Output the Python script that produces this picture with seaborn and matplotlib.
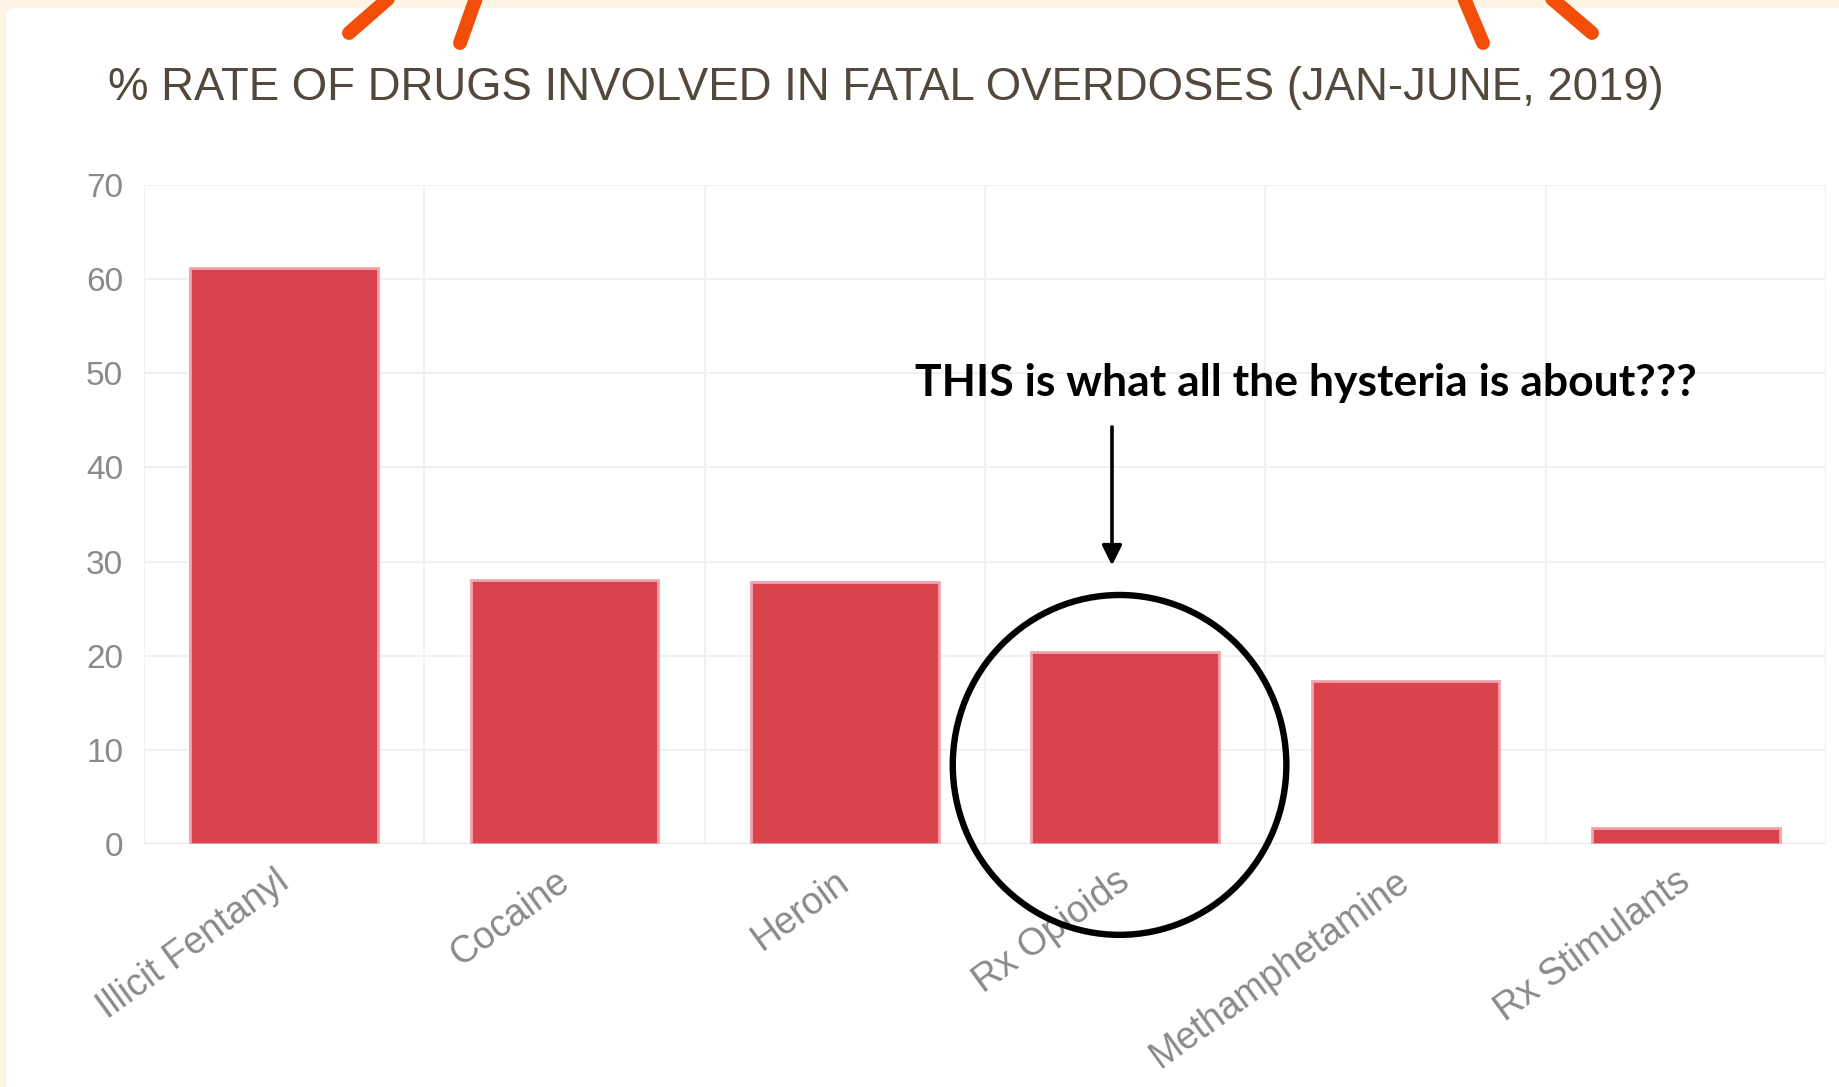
import numpy as np
import pandas as pd
import matplotlib
matplotlib.use("Agg")
import matplotlib.pyplot as plt
import matplotlib.transforms as mtransforms
from matplotlib.patches import Ellipse, FancyBboxPatch
from matplotlib.lines import Line2D
import seaborn as sns

# Data
drugs = ["Illicit Fentanyl", "Cocaine", "Heroin", "Rx Opioids", "Methamphetamine", "Rx Stimulants"]
rates = [61.2, 28.0, 27.8, 20.4, 17.3, 1.7]
y_ticks = [0, 10, 20, 30, 40, 50, 60, 70]

title = "% RATE OF DRUGS INVOLVED IN FATAL OVERDOSES (JAN-JUNE, 2019)"
note = "THIS is what all the hysteria is about???"

sns.set_theme(style="white")
plt.rcParams["font.family"] = ["Liberation Sans", "DejaVu Sans"]

W, H = 1839, 1087
fig = plt.figure(figsize=(W / 100, H / 100), dpi=100, facecolor="#fdf4e3")

# white card on the cream page
card = FancyBboxPatch((6 / W, -0.05), 1.2, 1.05 - 8 / H,
                      boxstyle="round,pad=0,rounding_size=0.006",
                      transform=fig.transFigure, facecolor="white", edgecolor="none", zorder=0)
fig.add_artist(card)

# orange decorative strokes at the top edge
for (x0, y0, x1, y1) in [(389, -2, 349, 33), (476, -2, 460, 43), (1464, -2, 1483, 43), (1551, -2, 1592, 33)]:
    fig.add_artist(Line2D([x0 / W, x1 / W], [1 - y0 / H, 1 - y1 / H], transform=fig.transFigure,
                          color="#f24e0a", lw=10, solid_capstyle="round", zorder=1))

ax = fig.add_axes([144 / W, 1 - 844 / H, 1682 / W, 659 / H])
ax.set_facecolor("none")

df = pd.DataFrame({"drug": drugs, "rate": rates})
sns.barplot(data=df, x="drug", y="rate", color="#d9434c", saturation=1, width=0.67,
            edgecolor="#f0a3ad", linewidth=2, ax=ax, zorder=3)

ax.set_xlim(-0.5, 5.5)
ax.set_ylim(0, 70)
ax.set_yticks(y_ticks)
ax.set_xticks(np.arange(-0.5, 6, 1), minor=True)
ax.set_xlabel("")
ax.set_ylabel("")
for s in ax.spines.values():
    s.set_visible(False)

ax.grid(True, axis="y", color="#f1f1f1", lw=1.5, zorder=0)
ax.grid(True, axis="x", which="minor", color="#f1f1f1", lw=1.5, zorder=0)
ax.grid(False, axis="x", which="major")
ax.axhline(0, color="#e6e6e6", lw=2, zorder=1)

ax.tick_params(axis="y", length=7, color="#eeeeee", width=1.5, pad=8, labelsize=24, labelcolor="#8a8a8a")
ax.tick_params(axis="x", which="minor", length=12, color="#eeeeee", width=1.5)
ax.tick_params(axis="x", which="major", length=0, pad=14, labelsize=27, labelcolor="#8a8a8a")
shift = mtransforms.ScaledTranslation(-10 / 100, 0, fig.dpi_scale_trans)
for lab in ax.get_xticklabels():
    lab.set_rotation(36)
    lab.set_ha("right")
    lab.set_rotation_mode("anchor")
    lab.set_transform(lab.get_transform() + shift)

fig.text(886 / W, 1 - 88 / H, title, ha="center", va="center", fontsize=32.8, color="#52493c")

# annotation on the Rx Opioids bar
ax.text(2.25, 49.0, note, ha="left", va="center", fontsize=32, fontweight="bold",
        family=["Lato", "DejaVu Sans"], color="black", zorder=6)
ax.annotate("", xy=(2.953, 29.3), xytext=(2.953, 44.6),
            arrowprops=dict(arrowstyle="-|>,head_length=1.0,head_width=0.5", color="black", lw=2.6),
            zorder=6)
ax.add_patch(Ellipse((2.98, 8.4), 1.19, 36.1, fill=False, edgecolor="black", lw=4.6,
                     clip_on=False, zorder=6))

fig.savefig("out.png", dpi=100, facecolor=fig.get_facecolor())
